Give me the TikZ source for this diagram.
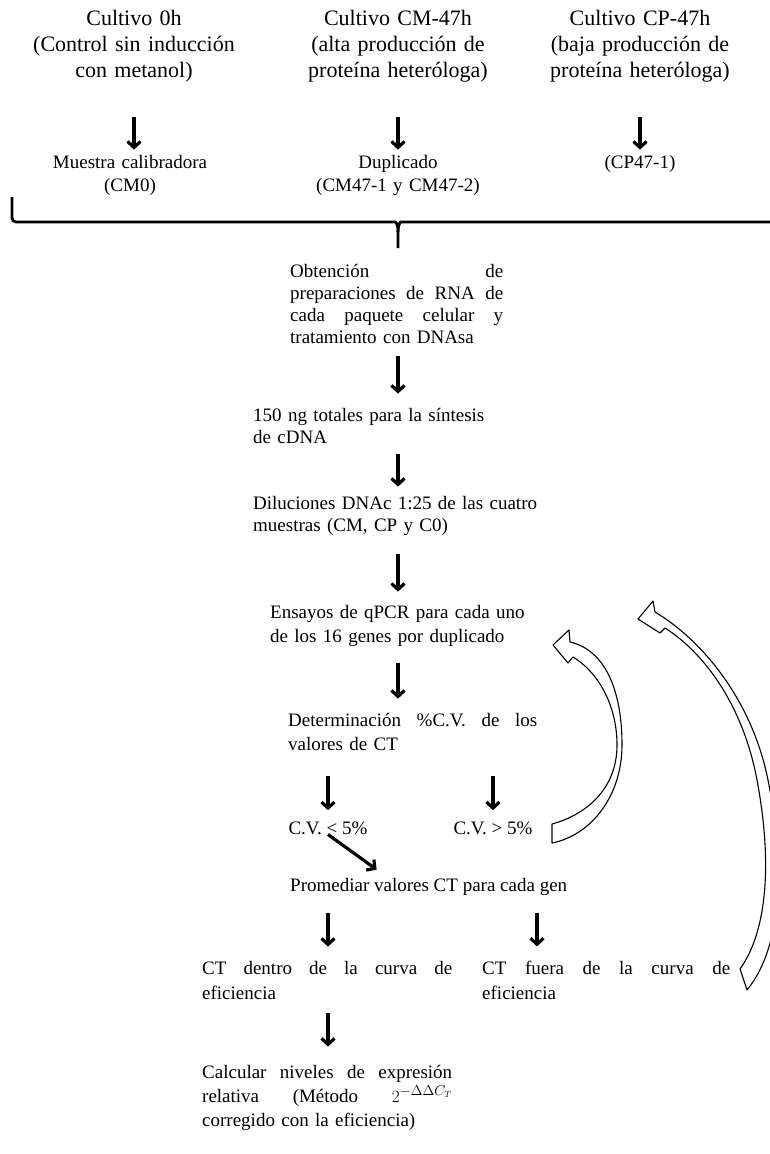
\documentclass[tikz,border=0pt]{standalone}
\usepackage{fontspec}
\setmainfont{Liberation Serif}
\usetikzlibrary{arrows.meta}
\newcommand{\jl}[2]{\leavevmode\hbox to #1{\spaceskip=.25em plus 1fill\relax #2}}
\begin{document}
\begin{tikzpicture}[x=1pt,y=-1pt,
  hdr/.style={inner sep=0, anchor=base, text width=240pt, align=center, font=\fontsize{22}{26}\selectfont},
  sub/.style={inner sep=0, anchor=base, text width=240pt, align=center, font=\fontsize{19}{23}\selectfont},
  txt/.style={inner sep=0, anchor=base west, align=left, font=\fontsize{19}{22.3}\selectfont},
  arr/.style={line width=3.2pt, -{Straight Barb[length=6pt,width=13pt]}},
  brc/.style={line width=2.8pt, rounded corners=4pt},
  hollow/.style={draw, fill=white, line width=1.1pt, line join=round}]
\useasboundingbox (0,0) rectangle (769,1154);
\coordinate (mid) at (398,0);
\coordinate (colR) at (537,0);
% cultivos
\node[hdr] (c0) at (134,25) {Cultivo 0h\\(Control sin inducción\\con metanol)};
\node[hdr] (cm) at (398,25) {Cultivo CM-47h\\(alta producción de\\proteína heteróloga)};
\node[hdr] (cp) at (640,25) {Cultivo CP-47h\\(baja producción de\\proteína heteróloga)};
\node[sub] (s0) at (130,168) {Muestra calibradora\\(CM0)};
\node[sub] (sm) at (398,168) {Duplicado\\(CM47-1 y CM47-2)};
\node[sub] (sp) at (640,168) {(CP47-1)};
\draw[arr, shorten <=35pt, shorten >=5pt] (c0.south) -- (c0.south |- s0.north);
\draw[arr, shorten <=35pt, shorten >=5pt] (cm.south) -- (cm.south |- sm.north);
\draw[arr, shorten <=35pt, shorten >=5pt] (cp.south) -- (cp.south |- sp.north);
% llave
\draw[brc] (12,197) -- (12,222) -- (391,222) .. controls (396,222) and (398,225) .. (398,232) -- (398,248);
\draw[brc] (398,232) .. controls (398,225) and (400,222) .. (405,222) -- (780,222);
% pasos
\node[txt, text width=213pt] (obt) at (290,277) {\jl{213pt}{Obtención de}\\\jl{213pt}{preparaciones de RNA de}\\\jl{213pt}{cada paquete celular y}\\tratamiento con DNAsa};
\node[txt, text width=260pt] (sint) at (253,421) {150 ng totales para la síntesis\\de cDNA};
\node[txt, text width=300pt] (dil) at (253,509) {Diluciones DNAc 1:25 de las cuatro\\muestras (CM, CP y C0)};
\node[txt, text width=280pt, font=\fontsize{19}{24}\selectfont] (ens) at (270,618) {Ensayos de qPCR para cada uno\\de los 16 genes por duplicado};
\node[txt, text width=249pt, font=\fontsize{19}{24}\selectfont] (det) at (288,726) {\jl{249pt}{Determinación \%C.V. de los}\\valores de CT};
\node[txt, anchor=base] (lt) at (328,834) {C.V. < 5\%};
\node[txt, anchor=base] (gt) at (493,834) {C.V. > 5\%};
\node[txt] (prom) at (290,891) {Promediar valores CT para cada gen};
\node[txt, text width=250pt, font=\fontsize{19}{25}\selectfont] (dentro) at (202,974) {\jl{250pt}{CT dentro de la curva de}\\eficiencia};
\node[txt, text width=248pt, font=\fontsize{19}{25}\selectfont] (fuera) at (482,974) {\jl{248pt}{CT fuera de la curva de}\\eficiencia};
\node[txt, text width=250pt, font=\fontsize{19}{24}\selectfont] (calc) at (202,1078) {\jl{250pt}{Calcular niveles de expresión}\\\jl{250pt}{relativa (Método $2^{-\Delta\Delta C_T}$}\\corregido con la eficiencia)};
\draw[arr, shorten <=12pt, shorten >=14pt] (obt.south -| mid) -- (sint.north -| mid);
\draw[arr, shorten <=10pt, shorten >=9pt] (sint.south -| mid) -- (dil.north -| mid);
\draw[arr, shorten <=18pt, shorten >=13pt] (dil.south -| mid) -- (ens.north -| mid);
\draw[arr, shorten <=17pt, shorten >=14pt] (ens.south -| mid) -- (det.north -| mid);
\draw[arr, shorten <=26pt, shorten >=11pt] (det.south -| lt.north) -- (lt.north);
\draw[arr, shorten <=26pt, shorten >=11pt] (det.south -| gt.north) -- (gt.north);
\draw[arr] (lt.south) -- ([xshift=-52pt,yshift=8pt]prom.north);
\draw[arr, shorten <=18pt, shorten >=14pt] (prom.south -| lt) -- (dentro.north -| lt);
\draw[arr, shorten <=18pt, shorten >=14pt] (prom.south -| colR) -- (fuera.north -| colR);
\draw[arr, shorten <=14pt, shorten >=18pt] (dentro.south -| lt) -- (calc.north -| lt);
% flechas huecas de vuelta
\draw[hollow] (570,642) .. controls (605,650) and (622,690) .. (622,745)
  .. controls (622,795) and (592,835) .. (552,843) -- (552,824)
  .. controls (585,815) and (617,790) .. (617,745)
  .. controls (617,705) and (598,672) .. (573,657)
  -- (568,663) -- (553,645) -- (569,630) -- cycle;
\draw[hollow] (655,612) .. controls (702,640) and (752,700) .. (768,780)
  .. controls (784,860) and (784,945) .. (747,990) -- (740,969)
  .. controls (768,930) and (772,860) .. (757,780)
  .. controls (742,700) and (700,650) .. (665,628)
  -- (660,633) -- (638,619) -- (653,601) -- cycle;
\end{tikzpicture}
\end{document}
